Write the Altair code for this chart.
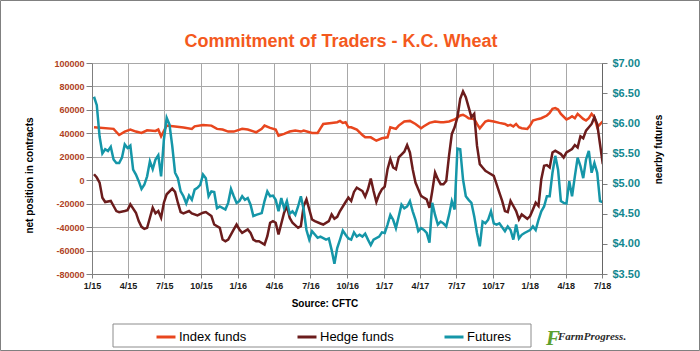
import altair as alt
import pandas as pd
import numpy as np

# ---------------- data ----------------
title_text = "Commitment of Traders - K.C. Wheat"
source_text = "Source: CFTC"
series_names = ["Index funds", "Hedge funds", "Futures"]
series_colors = ["#E8461E", "#6B1C1C", "#1596A8"]
start_date = "2015-01-06"  # week 0 of the weekly COT reports

index_weeks = [0, 7, 9, 11, 13, 15, 17, 19, 22, 23,
               24, 26, 29, 32, 35, 36, 39, 42, 44, 46,
               48, 50, 53, 55, 58, 60, 61, 63, 65, 66,
               68, 70, 72, 74, 75, 78, 80, 81, 82, 85,
               87, 88, 89, 90, 91, 92, 94, 96, 97, 99,
               101, 103, 105, 106, 108, 109, 111, 113, 115, 117,
               118, 120, 122, 124, 125, 127, 129, 131, 132, 133,
               134, 136, 137, 138, 140, 141, 143, 145, 147, 148,
               149, 150, 151, 152, 153, 155, 156, 157, 159, 160,
               162, 163, 164, 165, 166, 167, 169, 170, 171, 172,
               173, 175, 176, 177, 178, 179, 180, 182]
index_vals = [45200, 43800, 38600, 41500, 43200, 41500, 40300, 42600, 42000, 43200,
              37500, 46600, 45800, 44900, 43800, 46000, 47200, 46600, 43800, 43200,
              41500, 41500, 43800, 43200, 40900, 43800, 46600, 44600, 43200, 38000,
              39500, 41500, 42300, 41500, 42300, 40300, 40300, 44300, 48000, 48900,
              49500, 50600, 48900, 49500, 45200, 45200, 43200, 38600, 36600, 36600,
              33700, 35800, 36600, 45200, 43800, 46600, 50100, 50600, 48000, 44300,
              46000, 48900, 50100, 49500, 49500, 50100, 51800, 55200, 55800, 54600,
              52900, 52300, 48000, 44300, 50100, 50900, 50100, 48900, 48000, 46600,
              47200, 45800, 48000, 45200, 44300, 43800, 46600, 50900, 52300, 52900,
              55200, 57500, 60900, 61500, 60300, 56600, 51800, 52900, 54600, 52900,
              56600, 52300, 50900, 52900, 56600, 53800, 45200, 50100]

hedge_weeks = [0, 1, 2, 3, 4, 6, 7, 8, 9, 11,
               12, 13, 15, 16, 17, 18, 19, 20, 21, 22,
               23, 24, 25, 26, 28, 29, 30, 31, 32, 34,
               35, 37, 39, 40, 42, 43, 45, 46, 47, 48,
               50, 51, 52, 53, 55, 56, 57, 58, 59, 61,
               62, 63, 64, 65, 66, 68, 69, 70, 71, 73,
               74, 75, 76, 78, 79, 81, 82, 84, 85, 86,
               87, 88, 90, 91, 92, 93, 94, 96, 97, 98,
               99, 100, 101, 102, 103, 104, 105, 106, 107, 108,
               109, 111, 112, 113, 114, 115, 117, 118, 119, 120,
               121, 122, 123, 124, 125, 126, 127, 128, 129, 130,
               131, 132, 133, 134, 135, 136, 137, 138, 139, 140,
               141, 143, 144, 145, 146, 147, 148, 149, 150, 151,
               152, 153, 155, 156, 157, 158, 159, 160, 161, 162,
               163, 164, 165, 167, 168, 169, 171, 172, 173, 174,
               175, 176, 178, 179, 180, 181, 182]
hedge_vals = [5100, 2300, -2000, -14900, -18600, -17700, -22000, -26300, -27200, -26300,
              -25500, -20600, -27700, -34900, -39800, -41500, -40600, -32000, -23500, -28300,
              -26300, -32000, -19200, -12000, -7200, -10000, -19200, -27200, -28300, -26300,
              -28300, -30000, -27700, -27200, -30600, -37800, -40600, -50600, -52100, -50600,
              -42000, -37800, -42000, -44900, -42000, -44900, -50600, -52100, -52100, -54900,
              -47800, -36300, -34900, -36300, -46300, -27700, -22000, -32000, -36300, -40600,
              -39200, -22000, -16300, -33500, -34900, -36900, -37800, -34900, -29200, -32900,
              -31200, -26300, -18600, -14900, -17700, -10000, -6300, -9200, -14000, -7700,
              1400, -9200, -18600, -12000, -7700, -5400, 9400, 18000, 10900, 9400,
              19400, 24300, 30000, 23700, 9400, -2000, -13400, -14900, -16300, -23500,
              -9200, 6600, 900, -3400, -3400, -600, 20900, 39500, 45200, 53800,
              69500, 75800, 70900, 62300, 53800, 56600, 29500, 13700, 10900, 8000,
              6600, 3700, -3400, -10600, -17700, -26300, -27200, -17700, -22000, -26300,
              -33500, -29200, -32900, -30600, -24900, -19200, -22000, 900, 12300, 12900,
              10900, 23700, 25200, 22300, 19400, 23700, 26600, 30000, 28000, 37500,
              35800, 42300, 48000, 53800, 48000, 30900, 13700]

futures_weeks = [0, 1, 2, 3, 4, 5, 6, 7, 8, 9,
                 10, 11, 12, 13, 14, 15, 16, 17, 18, 19,
                 20, 21, 22, 23, 24, 25, 26, 27, 28, 29,
                 30, 31, 32, 33, 34, 35, 36, 37, 38, 39,
                 40, 41, 42, 43, 44, 45, 47, 48, 49, 50,
                 51, 52, 53, 54, 55, 56, 57, 58, 60, 61,
                 62, 63, 64, 65, 66, 67, 68, 69, 70, 71,
                 72, 73, 74, 75, 76, 77, 78, 80, 81, 83,
                 84, 85, 86, 87, 88, 89, 90, 91, 92, 93,
                 94, 95, 96, 97, 98, 99, 100, 102, 103, 104,
                 105, 106, 107, 108, 110, 111, 112, 113, 114, 115,
                 116, 117, 118, 119, 120, 121, 122, 123, 124, 125,
                 126, 127, 128, 129, 130, 131, 132, 133, 134, 135,
                 136, 137, 138, 139, 140, 141, 142, 143, 144, 145,
                 147, 148, 149, 150, 151, 152, 153, 154, 156, 157,
                 158, 159, 160, 161, 162, 163, 164, 165, 166, 167,
                 168, 169, 170, 171, 172, 173, 174, 175, 176, 177,
                 178, 179, 180, 181, 182]
futures_vals = [6.44, 6.30, 5.78, 5.50, 5.57, 5.54, 5.61, 5.40, 5.34, 5.34,
                5.43, 5.65, 5.59, 5.63, 5.23, 5.15, 5.04, 4.91, 4.98, 5.12,
                5.37, 5.24, 5.40, 5.47, 5.12, 5.73, 6.09, 5.98, 5.62, 5.18,
                5.09, 4.87, 4.79, 4.67, 4.80, 4.73, 4.90, 4.93, 4.98, 5.15,
                5.09, 4.79, 4.87, 4.86, 4.59, 4.62, 4.57, 4.68, 4.91, 4.79,
                4.68, 4.71, 4.79, 4.73, 4.76, 4.65, 4.46, 4.48, 4.51, 4.71,
                4.87, 4.79, 4.80, 4.73, 4.54, 4.76, 4.59, 4.71, 4.50, 4.54,
                4.48, 4.62, 4.79, 4.57, 4.23, 4.07, 4.21, 4.10, 4.12, 4.07,
                4.09, 3.90, 3.67, 3.93, 4.07, 4.22, 4.15, 4.09, 4.07, 4.19,
                4.12, 4.15, 4.12, 4.17, 4.07, 3.98, 4.07, 4.12, 4.19, 4.18,
                4.32, 4.48, 4.40, 4.26, 4.65, 4.59, 4.62, 4.71, 4.54, 4.40,
                4.21, 4.26, 4.23, 4.18, 4.02, 4.68, 4.48, 4.32, 4.37, 4.34,
                4.29, 4.48, 4.71, 4.57, 5.58, 5.57, 5.07, 4.79, 4.73, 4.68,
                4.46, 4.18, 3.96, 4.37, 4.34, 4.40, 4.54, 4.34, 4.32, 4.34,
                4.21, 4.29, 4.23, 4.07, 4.32, 4.09, 4.15, 4.18, 4.23, 4.29,
                4.23, 4.40, 4.54, 4.62, 4.79, 4.79, 5.18, 5.46, 5.23, 4.71,
                4.68, 4.67, 5.04, 4.79, 5.12, 5.43, 5.29, 5.09, 5.40, 5.54,
                5.18, 5.34, 5.18, 4.71, 4.69]

left_ticks = [-80000, -60000, -40000, -20000, 0, 20000, 40000, 60000, 80000, 100000]
right_ticks = [3.5, 4.0, 4.5, 5.0, 5.5, 6.0, 6.5, 7.0]
x_ticks = ["2015-01-01", "2015-04-01", "2015-07-01", "2015-10-01",
           "2016-01-01", "2016-04-01", "2016-07-01", "2016-10-01",
           "2017-01-01", "2017-04-01", "2017-07-01", "2017-10-01",
           "2018-01-01", "2018-04-01", "2018-07-01"]
x_domain = ["2015-01-01", "2018-07-01"]

# ---------------- helpers ----------------
def to_dates(weeks):
    d = pd.Timestamp(start_date) + pd.to_timedelta(np.array(weeks) * 7, unit="D")
    return list(d.strftime("%Y-%m-%d"))


def dt(s):
    t = pd.Timestamp(s)
    return alt.DateTime(year=int(t.year), month=int(t.month), date=int(t.day), utc=True)


FONT = "Liberation Sans, Arial, Helvetica, sans-serif"
GRID = "#A8A8A8"
AXC = "#7F7F7F"

left_df = pd.concat([
    pd.DataFrame({"date": to_dates(index_weeks), "value": index_vals, "series": series_names[0]}),
    pd.DataFrame({"date": to_dates(hedge_weeks), "value": hedge_vals, "series": series_names[1]}),
], ignore_index=True)
fut_df = pd.DataFrame({"date": to_dates(futures_weeks), "price": futures_vals,
                       "series": series_names[2]})

x_enc = alt.X(
    "date:T",
    scale=alt.Scale(type="utc", domain=[dt(x_domain[0]), dt(x_domain[1])]),
    axis=alt.Axis(values=[dt(s) for s in x_ticks],
                  labelExpr="utcFormat(datum.value, '%-m/%y')",
                  title=None, grid=True, gridColor=GRID, gridWidth=1,
                  tickSize=4, tickColor=AXC, domainColor=AXC,
                  labelFont=FONT, labelFontSize=9, labelFontWeight="bold",
                  labelColor="#1A1A1A", labelPadding=3, labelFlush=False),
)

legend = alt.Legend(orient="none", legendX=63, legendY=263, direction="horizontal",
                    title=None, symbolType="stroke", symbolSize=361, symbolStrokeWidth=3,
                    labelFont=FONT, labelFontSize=13, labelColor="#000000",
                    labelOffset=2, columnPadding=44, padding=0)
color_enc = alt.Color("series:N", scale=alt.Scale(domain=series_names, range=series_colors),
                      legend=legend)

left = alt.Chart(left_df).mark_line(strokeWidth=2.5, clip=True).encode(
    x=x_enc,
    y=alt.Y("value:Q",
            scale=alt.Scale(domain=[left_ticks[0], left_ticks[-1]], nice=False, zero=False),
            axis=alt.Axis(values=left_ticks, labelExpr="toString(datum.value)",
                          grid=True, gridColor=GRID, gridWidth=1,
                          tickSize=6, tickColor=AXC, domainColor=AXC,
                          labelFont=FONT, labelFontSize=9, labelFontWeight="bold",
                          labelColor="#B0421E", labelPadding=2,
                          title="net position in contracts", titleFont=FONT,
                          titleFontSize=10, titleFontWeight="bold", titleColor="#000000",
                          titleAngle=270, titleX=-63, titleY=112,
                          titleAlign="center", titleBaseline="middle")),
    color=color_enc,
)

right = alt.Chart(fut_df).mark_line(strokeWidth=2.5, clip=True).encode(
    x=x_enc,
    y=alt.Y("price:Q",
            scale=alt.Scale(domain=[right_ticks[0], right_ticks[-1]], nice=False, zero=False),
            axis=alt.Axis(orient="right", values=right_ticks, format="$.2f",
                          grid=False, tickSize=5, tickColor=AXC, domainColor="#666666",
                          labelFont=FONT, labelFontSize=11, labelFontWeight="bold",
                          labelColor="#12878F", labelPadding=5,
                          title="nearby futures", titleFont=FONT,
                          titleFontSize=10, titleFontWeight="bold", titleColor="#000000",
                          titleAngle=270, titleX=56, titleY=86,
                          titleAlign="center", titleBaseline="middle")),
    color=color_enc,
)

one = pd.DataFrame({"t": [title_text]})
title_mark = alt.Chart(one).mark_text(
    font=FONT, fontSize=18, fontWeight="bold", color="#F4591D",
    align="center", baseline="alphabetic"
).encode(text="t:N", x=alt.value(249), y=alt.value(-16))

src = alt.Chart(pd.DataFrame({"t": [source_text]})).mark_text(
    font=FONT, fontSize=10, fontWeight="bold", color="#000000",
    align="center", baseline="alphabetic"
).encode(text="t:N", x=alt.value(233), y=alt.value(244))

legend_box = alt.Chart(pd.DataFrame({"t": ["box"]})).mark_rect(
    fill="#ffffff", fillOpacity=0, stroke="#8C8C8C", strokeWidth=1
).encode(x=alt.value(21), x2=alt.value(439), y=alt.value(261), y2=alt.value(284))

frame = alt.Chart(pd.DataFrame({"t": ["frame"]})).mark_rect(
    fill="#ffffff", fillOpacity=0, stroke="#808080", strokeWidth=1
).encode(x=alt.value(-91.5), x2=alt.value(607.5), y=alt.value(-62.5), y2=alt.value(287.5))

logo_leaf = alt.Chart(pd.DataFrame({"t": ["F"]})).mark_text(
    font="Liberation Serif, DejaVu Serif, serif", fontSize=21, fontWeight="bold",
    fontStyle="italic", color="#5BA02E", align="left", baseline="alphabetic"
).encode(text="t:N", x=alt.value(454), y=alt.value(282))

logo_text = alt.Chart(pd.DataFrame({"t": ["FarmProgress."]})).mark_text(
    font="Liberation Serif, DejaVu Serif, serif", fontSize=11, fontWeight="bold",
    fontStyle="italic", color="#2B2B2B", align="left", baseline="alphabetic"
).encode(text="t:N", x=alt.value(466), y=alt.value(277))

chart = alt.layer(
    left, right, legend_box, frame, title_mark, src, logo_leaf, logo_text
).resolve_scale(y="independent").properties(
    width=510, height=211,
    padding={"left": 92, "top": 63, "right": 98, "bottom": 77},
    autosize=alt.AutoSizeParams(type="none"),
    background="#ffffff",
).configure_view(stroke=None)

chart.save("out.html", embed_options={"renderer": "svg", "actions": False})
